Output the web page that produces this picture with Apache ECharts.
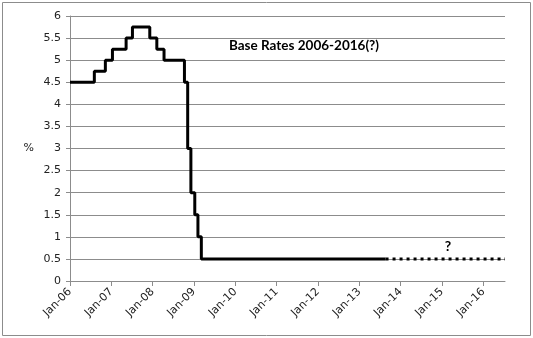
<!DOCTYPE html>
<html>
<head>
<meta charset="utf-8">
<script src="https://cdn.jsdelivr.net/npm/echarts@6/dist/echarts.min.js"></script>
<style>
html,body{margin:0;padding:0;background:#fff;}
#chart{width:533px;height:338px;}
</style>
</head>
<body>
<div id="chart"></div>
<script>
// Tick labels (one per January)
const tickLabels = ['Jan-06','Jan-07','Jan-08','Jan-09','Jan-10','Jan-11','Jan-12','Jan-13','Jan-14','Jan-15','Jan-16'];
// Base rate change dates and values (solid line)
const rateDates = ['2006-01-01','2006-08-03','2006-11-09','2007-01-11','2007-05-10','2007-07-05','2007-12-06','2008-02-07','2008-04-10','2008-10-08','2008-11-06','2008-12-04','2009-01-08','2009-02-05','2009-03-05','2013-08-20'];
const rateValues = [4.5,4.75,5.0,5.25,5.5,5.75,5.5,5.25,5.0,4.5,3.0,2.0,1.5,1.0,0.5,0.5];
// Uncertain continuation (dotted line)
const forecastDates = ['2013-08-20','2016-07-10'];
const forecastValues = [0.5,0.5];
const yTicks = [0,0.5,1,1.5,2,2.5,3,3.5,4,4.5,5,5.5,6];

function toMonths(s){
  const [y,m,d] = s.split('-').map(Number);
  const dim = new Date(y, m, 0).getDate();
  return (y-2006)*12 + (m-1) + (d-1)/dim;
}
const solid = rateDates.map((d,i)=>[toMonths(d), rateValues[i]]);
const dotted = forecastDates.map((d,i)=>[toMonths(d), forecastValues[i]]);
const xMax = toMonths('2016-07-10');

const chart = echarts.init(document.getElementById('chart'), null, {renderer:'canvas'});
const gray = '#8c8c8c';
const labelFont = 'DejaVu Sans';
chart.setOption({
  animation:false,
  backgroundColor:'#fff',
  grid:{left:70, right:28, top:16, bottom:57, containLabel:false},
  xAxis:{
    type:'value', min:0, max:xMax, interval:12,
    axisLine:{show:true, lineStyle:{color:gray, width:1}},
    axisTick:{show:true, inside:false, length:5, lineStyle:{color:gray}},
    splitLine:{show:false},
    axisLabel:{
      rotate:45, margin:9, fontFamily:labelFont, fontSize:11, color:'#222',
      showMaxLabel:false,
      formatter:function(v){ const i=Math.round(v/12); return (Math.abs(v-i*12)<1e-6 && tickLabels[i]) ? tickLabels[i] : ''; }
    }
  },
  yAxis:{
    type:'value', min:yTicks[0], max:yTicks[yTicks.length-1], interval:0.5,
    axisLine:{show:true, lineStyle:{color:gray, width:1}},
    axisTick:{show:true, inside:false, length:4, lineStyle:{color:gray}},
    splitLine:{show:true, lineStyle:{color:gray, width:1}},
    axisLabel:{margin:9, fontFamily:labelFont, fontSize:11, color:'#222'},
    name:'%', nameLocation:'middle', nameRotate:0, nameGap:36,
    nameTextStyle:{fontFamily:labelFont, fontSize:11, color:'#222', padding:[6,0,0,0]}
  },
  series:[
    {type:'line', data:solid, step:'end', symbol:'none', lineStyle:{color:'#000', width:3}, z:3},
    {type:'line', data:dotted, symbol:'none', lineStyle:{color:'#000', width:3, type:[3,4]}, z:2}
  ],
  graphic:[
    {type:'rect', shape:{x:2.5,y:2.5,width:528,height:333}, style:{fill:null, stroke:gray, lineWidth:1}, silent:true, z:-1},
    {type:'text', x:304, y:46, style:{text:'Base Rates 2006-2016(?)', font:'bold 13.5px Lato', fill:'#000', textAlign:'center', textVerticalAlign:'middle'}},
    {type:'text', x:448, y:246, style:{text:'?', font:'bold 14px Lato', fill:'#000', textAlign:'center', textVerticalAlign:'middle'}}
  ]
});
</script>
</body>
</html>
